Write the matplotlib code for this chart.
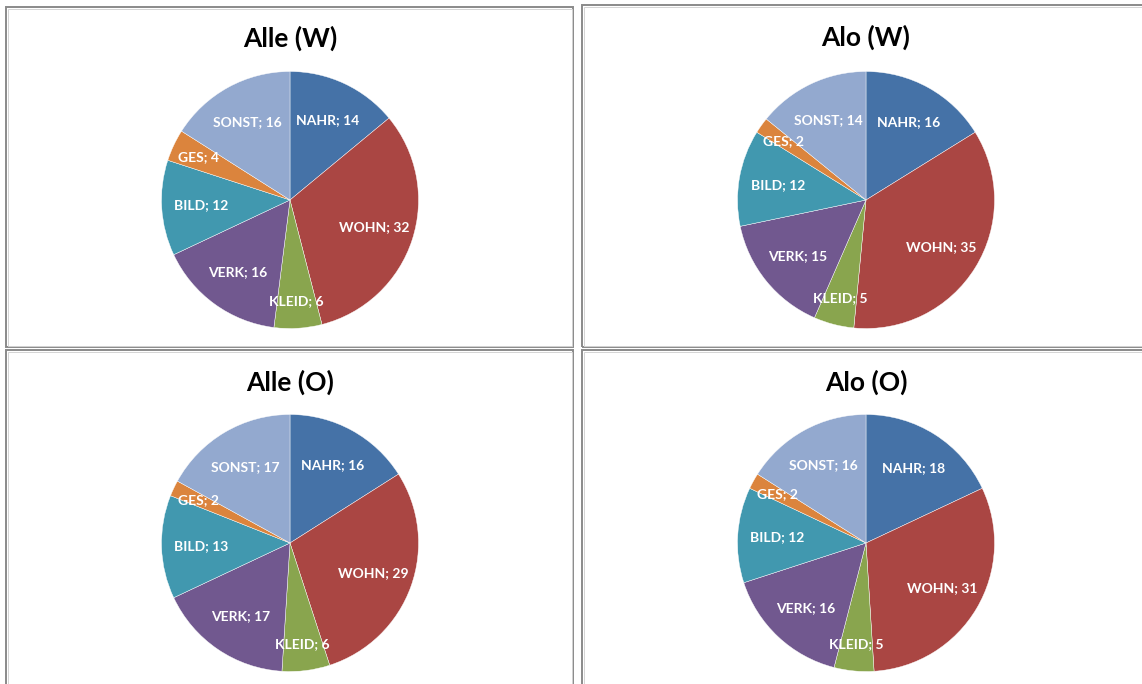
import matplotlib.pyplot as plt
from matplotlib.patches import Rectangle

# Ausgabenanteile in Prozent je Gruppe
kategorien = ["NAHR", "WOHN", "KLEID", "VERK", "BILD", "GES", "SONST"]
farben = ["#4572A7", "#AA4643", "#89A54E", "#71588F", "#4198AF", "#DB843D", "#93A9CF"]

alle_w = [14, 32, 6, 16, 12, 4, 16]
alo_w = [16, 35, 5, 15, 12, 2, 14]
alle_o = [16, 29, 6, 17, 13, 2, 17]
alo_o = [18, 31, 5, 16, 12, 2, 16]

titel = ["Alle (W)", "Alo (W)", "Alle (O)", "Alo (O)"]
reihen = [alle_w, alo_w, alle_o, alo_o]

W, H = 1142, 684
fig = plt.figure(figsize=(W / 100, H / 100), dpi=100)
ax = fig.add_axes([0, 0, 1, 1])
ax.set_xlim(0, W)
ax.set_ylim(0, H)
ax.set_aspect("equal")
ax.axis("off")

# Rahmen (x, y oben, Breite, Hoehe) in Pixeln, Bildkoordinaten
rahmen = [(6, 7, 567, 340), (582, 5, 600, 342), (6, 350, 567, 400), (582, 350, 600, 400)]
mitten = [(290, 200), (866, 200), (290, 543), (866, 543)]
titel_y = [38, 37, 382, 382]
radius = 128.5

for (rx, ry, rw, rh), (cx, cy), ty, name, werte in zip(rahmen, mitten, titel_y, titel, reihen):
    ax.add_patch(Rectangle((rx, H - ry - rh), rw, rh, fill=False,
                           edgecolor="#8a8a8a", lw=1.4, zorder=1))
    ax.add_patch(Rectangle((rx + 1.5, H - ry - rh + 1.5), rw - 3, rh - 3, fill=False,
                           edgecolor="#d4d4d4", lw=0.7, zorder=1))
    ax.text(cx, H - ty, name, ha="center", va="center", fontsize=19,
            fontweight="bold", family="Lato", color="black")

    wedges, texts = ax.pie(werte, colors=farben, startangle=90, counterclock=False,
                           center=(cx, H - cy), radius=radius,
                           labels=[f"{k}; {v}" for k, v in zip(kategorien, werte)],
                           labeldistance=0.69,
                           wedgeprops=dict(edgecolor="white", linewidth=0.3),
                           textprops=dict(color="white", fontsize=10,
                                          fontweight="bold", family="Lato"))
    for t, v in zip(texts, werte):
        t.set_ha("center")
        t.set_va("center")
        # schmale Segmente: Beschriftung weiter nach aussen
        if v <= 6:
            x, y = t.get_position()
            f = 0.79 / 0.69
            t.set_position((cx + (x - cx) * f, (H - cy) + (y - (H - cy)) * f))

ax.set_xlim(0, W)
ax.set_ylim(0, H)
fig.savefig("out.png", dpi=100)
